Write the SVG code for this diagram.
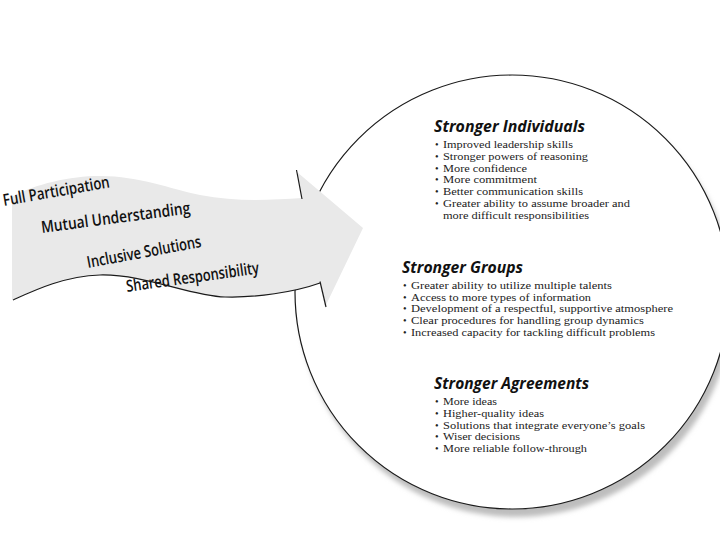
<svg xmlns="http://www.w3.org/2000/svg" width="720" height="540" viewBox="0 0 720 540">
  <defs>
    <filter id="soft" x="-10%" y="-10%" width="120%" height="120%">
      <feGaussianBlur stdDeviation="2.5"/>
    </filter>
  </defs>
  <style>
    .flow { font-family: "Open Sans", "Liberation Sans", sans-serif; font-weight: 600; font-size: 16.5px; fill: #111; }
    .title { font-family: "Open Sans", "Liberation Sans", sans-serif; font-weight: 700; font-style: italic; font-size: 16px; fill: #111; }
    .item { font-family: "Liberation Serif", "DejaVu Serif", serif; font-size: 10.3px; fill: #222; }
    .edge { fill: none; stroke: #1a1a1a; stroke-width: 1.2; }
    .ring { fill: #ffffff; stroke: #1a1a1a; stroke-width: 1.2; }
  </style>
  <rect width="720" height="540" fill="#ffffff"/>

  <g id="outcome-circle">
    <circle cx="516" cy="300" r="217" fill="#bdbdbd" filter="url(#soft)"/>
    <circle class="ring" cx="512" cy="292" r="217"/>
  </g>

  <g id="flow-arrow">
    <path d="M 12,197 C 35,184 70,176 100,176 C 140,176 170,189 200,195 C 235,202 270,200 302,198 L 297,172 L 363,228 L 325,307 L 320,283 C 295,292 255,298 225,297 C 190,296 145,274 100,275 C 65,276 35,290 12,300 Z" fill="#e9e9e9"/>
    <text class="flow" x="4" y="206" textLength="108" lengthAdjust="spacingAndGlyphs" transform="rotate(-10 4 206)">Full Participation</text>
    <text class="flow" x="42" y="233" textLength="150" lengthAdjust="spacingAndGlyphs" transform="rotate(-7.5 42 233)">Mutual Understanding</text>
    <text class="flow" x="88" y="268" textLength="116" lengthAdjust="spacingAndGlyphs" transform="rotate(-10.5 88 268)">Inclusive Solutions</text>
    <text class="flow" x="127" y="292" textLength="134" lengthAdjust="spacingAndGlyphs" transform="rotate(-8 127 292)">Shared Responsibility</text>
  </g>

  <g id="connectors">
    <path class="edge" d="M 13,300 C 35,290 65,276 100,275 C 145,274 190,296 225,297 C 255,298 295,292 320,283"/>
    <path class="edge" d="M 296.5,170 L 302,199"/>
    <path class="edge" d="M 320,281.5 L 326,307"/>
  </g>

  <g id="stronger-individuals">
    <text class="title" x="434" y="131.5" textLength="151" lengthAdjust="spacingAndGlyphs">Stronger Individuals</text>
    <text class="item" lengthAdjust="spacingAndGlyphs">
      <tspan x="435" y="148">•</tspan><tspan x="443" y="148" textLength="130" lengthAdjust="spacingAndGlyphs">Improved leadership skills</tspan>
      <tspan x="435" y="159.5">•</tspan><tspan x="443" y="159.5" textLength="145" lengthAdjust="spacingAndGlyphs">Stronger powers of reasoning</tspan>
      <tspan x="435" y="171.5">•</tspan><tspan x="443" y="171.5" textLength="84" lengthAdjust="spacingAndGlyphs">More confidence</tspan>
      <tspan x="435" y="183">•</tspan><tspan x="443" y="183" textLength="94" lengthAdjust="spacingAndGlyphs">More commitment</tspan>
      <tspan x="435" y="195">•</tspan><tspan x="443" y="195" textLength="140" lengthAdjust="spacingAndGlyphs">Better communication skills</tspan>
      <tspan x="435" y="207">•</tspan><tspan x="443" y="207" textLength="187" lengthAdjust="spacingAndGlyphs">Greater ability to assume broader and</tspan>
      <tspan x="443" y="218.5" textLength="146" lengthAdjust="spacingAndGlyphs">more difficult responsibilities</tspan>
    </text>
  </g>

  <g id="stronger-groups">
    <text class="title" x="402" y="273" textLength="121" lengthAdjust="spacingAndGlyphs">Stronger Groups</text>
    <text class="item">
      <tspan x="403" y="289">•</tspan><tspan x="411" y="289" textLength="201" lengthAdjust="spacingAndGlyphs">Greater ability to utilize multiple talents</tspan>
      <tspan x="403" y="300.5">•</tspan><tspan x="411" y="300.5" textLength="180" lengthAdjust="spacingAndGlyphs">Access to more types of information</tspan>
      <tspan x="403" y="312">•</tspan><tspan x="411" y="312" textLength="262" lengthAdjust="spacingAndGlyphs">Development of a respectful, supportive atmosphere</tspan>
      <tspan x="403" y="324">•</tspan><tspan x="411" y="324" textLength="233" lengthAdjust="spacingAndGlyphs">Clear procedures for handling group dynamics</tspan>
      <tspan x="403" y="335.5">•</tspan><tspan x="411" y="335.5" textLength="244" lengthAdjust="spacingAndGlyphs">Increased capacity for tackling difficult problems</tspan>
    </text>
  </g>

  <g id="stronger-agreements">
    <text class="title" x="434" y="389" textLength="155" lengthAdjust="spacingAndGlyphs">Stronger Agreements</text>
    <text class="item">
      <tspan x="435" y="404.5">•</tspan><tspan x="443" y="404.5" textLength="54" lengthAdjust="spacingAndGlyphs">More ideas</tspan>
      <tspan x="435" y="416.5">•</tspan><tspan x="443" y="416.5" textLength="101" lengthAdjust="spacingAndGlyphs">Higher-quality ideas</tspan>
      <tspan x="435" y="428.5">•</tspan><tspan x="443" y="428.5" textLength="202" lengthAdjust="spacingAndGlyphs">Solutions that integrate everyone’s goals</tspan>
      <tspan x="435" y="440">•</tspan><tspan x="443" y="440" textLength="77" lengthAdjust="spacingAndGlyphs">Wiser decisions</tspan>
      <tspan x="435" y="452">•</tspan><tspan x="443" y="452" textLength="144" lengthAdjust="spacingAndGlyphs">More reliable follow-through</tspan>
    </text>
  </g>
</svg>
